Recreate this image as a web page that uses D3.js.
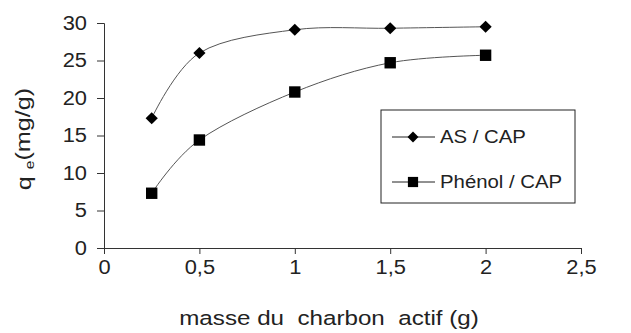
<!DOCTYPE html>
<html>
<head>
<meta charset="utf-8">
<script src="https://cdn.jsdelivr.net/npm/d3@7"></script>
<style>
  body { margin: 0; background: #fff; }
  text { font-family: "Liberation Sans", Arial, sans-serif; fill: #222; }
</style>
</head>
<body>
<div id="chart"></div>
<script>
const masses = [0.25, 0.5, 1, 1.5, 2];
const asCap = [17.3, 26.0, 29.1, 29.3, 29.5];
const phenolCap = [7.3, 14.4, 20.8, 24.7, 25.7];
const xTicks = [0, 0.5, 1, 1.5, 2, 2.5];
const yTicks = [0, 5, 10, 15, 20, 25, 30];
const seriesNames = ["AS / CAP", "Phénol / CAP"];

function scatterChart() {
  const W = 631, H = 333;
  const margin = { top: 23, right: 50, bottom: 85, left: 104 };
  const width = W - margin.left - margin.right;
  const height = H - margin.top - margin.bottom;
  const sx = 1.12; // text looks a bit stretched sideways in the picture

  const svg = d3.select("#chart")
    .append("svg")
    .attr("width", W)
    .attr("height", H)
    .append("g")
    .attr("transform", `translate(${margin.left},${margin.top})`);

  const x = d3.scaleLinear().domain([0, 2.5]).range([0, width]);
  const y = d3.scaleLinear().domain([0, 30]).range([height, 0]);

  const fmt = d => String(d).replace(".", ",");

  const xAxis = svg.append("g")
    .attr("transform", `translate(0,${height})`)
    .call(d3.axisBottom(x).tickValues(xTicks).tickFormat(fmt).tickSizeOuter(0).tickSize(6).tickPadding(6));

  const yAxis = svg.append("g")
    .call(d3.axisLeft(y).tickValues(yTicks).tickSizeOuter(0).tickSize(7).tickPadding(5));

  [xAxis, yAxis].forEach(a => {
    a.select(".domain").attr("stroke", "#333");
    a.selectAll(".tick line").attr("stroke", "#333");
    a.selectAll(".tick text")
      .style("font-size", "19.5px")
      .attr("fill", "#222");
  });
  xAxis.selectAll(".tick text").attr("transform", `scale(${sx},1)`);
  yAxis.selectAll(".tick text")
    .attr("x", -17 / sx)
    .attr("transform", `scale(${sx},1)`);

  const rows = [
    { name: seriesNames[0], values: asCap, shape: d3.symbolDiamond2, size: 95 },
    { name: seriesNames[1], values: phenolCap, shape: d3.symbolSquare, size: 130 }
  ];

  const line = d3.line()
    .x(d => x(d[0]))
    .y(d => y(d[1]))
    .curve(d3.curveCardinal.tension(0));

  rows.forEach(r => {
    const pts = masses.map((m, i) => [m, r.values[i]]);
    svg.append("path")
      .datum(pts)
      .attr("d", line)
      .attr("fill", "none")
      .attr("stroke", "#555")
      .attr("stroke-width", 1);

    svg.selectAll(null)
      .data(pts)
      .join("path")
      .attr("transform", d => `translate(${x(d[0])},${y(d[1])})`)
      .attr("d", d3.symbol().type(r.shape).size(r.size))
      .attr("fill", "#000");
  });

  // legend
  const lg = svg.append("g").attr("transform", `translate(${381 - margin.left},${110 - margin.top})`);
  lg.append("rect")
    .attr("width", 194)
    .attr("height", 93)
    .attr("fill", "#fff")
    .attr("stroke", "#222")
    .attr("stroke-width", 1);

  rows.forEach((r, i) => {
    const yy = 27 + i * 45;
    lg.append("line")
      .attr("x1", 11).attr("x2", 54)
      .attr("y1", yy).attr("y2", yy)
      .attr("stroke", "#222");
    lg.append("path")
      .attr("transform", `translate(32,${yy})`)
      .attr("d", d3.symbol().type(r.shape).size(r.size * 0.8))
      .attr("fill", "#000");
    lg.append("text")
      .attr("transform", `translate(59,${yy}) scale(1.1,1)`)
      .attr("dy", "0.35em")
      .style("font-size", "18.5px")
      .text(r.name);
  });

  // axis titles
  svg.append("text")
    .attr("transform", `translate(${329 - margin.left},${height + 77}) scale(1.24,1)`)
    .attr("text-anchor", "middle")
    .style("font-size", "19.5px")
    .style("white-space", "pre")
    .text("masse du  charbon  actif (g)");

  const yt = svg.append("text")
    .attr("transform", `translate(${24 - margin.left},${139 - margin.top}) rotate(-90) scale(1.2,1)`)
    .attr("text-anchor", "middle")
    .attr("dy", "0.35em")
    .style("font-size", "21px");
  yt.append("tspan").text("q ");
  yt.append("tspan").style("font-size", "13px").attr("dy", "0.2em").text("e");
  yt.append("tspan").attr("dy", "-0.2em").text("(mg/g)");
}

scatterChart();
</script>
</body>
</html>
